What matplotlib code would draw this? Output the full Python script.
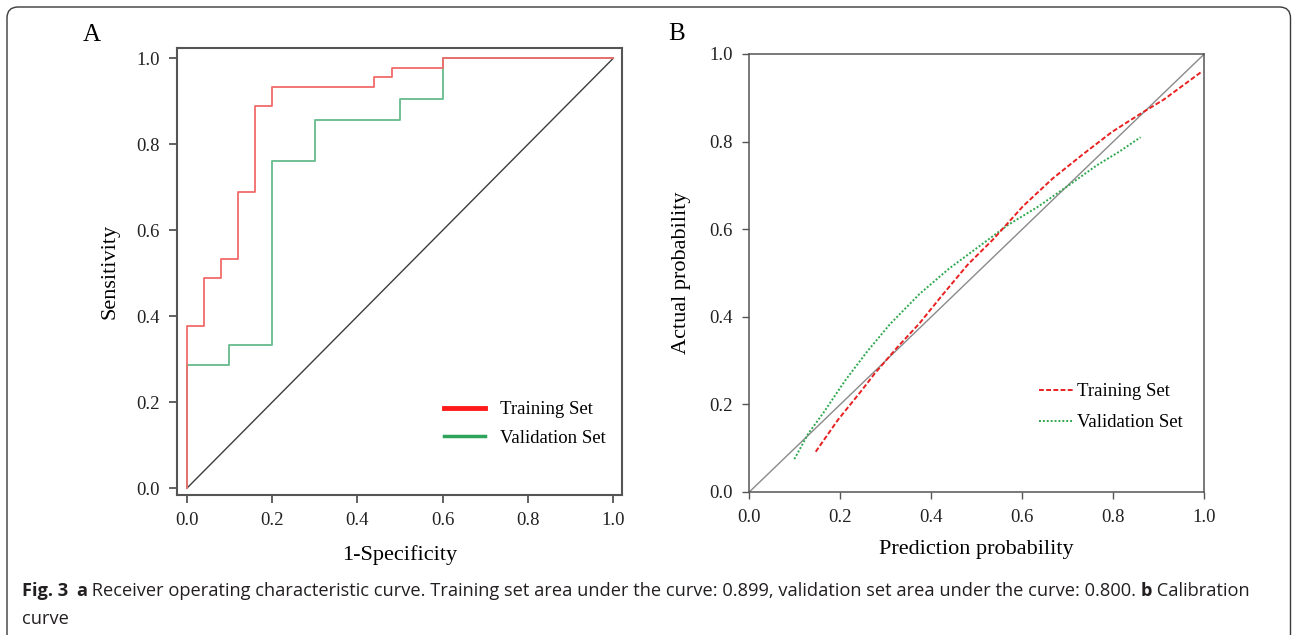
import numpy as np
import matplotlib
matplotlib.use("Agg")
import matplotlib.pyplot as plt
from matplotlib.lines import Line2D
from matplotlib.patches import FancyBboxPatch
from matplotlib.transforms import IdentityTransform

# ROC points (panel A)
train_fpr = [0, 0, 0.04, 0.04, 0.08, 0.08, 0.12, 0.12, 0.16, 0.16, 0.20, 0.20,
             0.44, 0.44, 0.48, 0.48, 0.60, 0.60, 1.00]
train_tpr = [0, 0.378, 0.378, 0.489, 0.489, 0.533, 0.533, 0.689, 0.689, 0.889, 0.889,
             0.933, 0.933, 0.956, 0.956, 0.978, 0.978, 1.0, 1.0]
valid_fpr = [0, 0, 0.10, 0.10, 0.20, 0.20, 0.30, 0.30, 0.50, 0.50, 0.60, 0.60, 1.00]
valid_tpr = [0, 0.286, 0.286, 0.333, 0.333, 0.762, 0.762, 0.857, 0.857, 0.905, 0.905,
             1.0, 1.0]

# calibration curves (panel B)
cal_train_x = [0.146, 0.195, 0.244, 0.276, 0.325, 0.374, 0.423, 0.480, 0.537, 0.602,
               0.667, 0.732, 0.797, 0.862, 0.911, 0.996]
cal_train_y = [0.092, 0.165, 0.228, 0.271, 0.330, 0.385, 0.448, 0.519, 0.578, 0.653,
               0.716, 0.770, 0.822, 0.865, 0.896, 0.961]
cal_valid_x = [0.099, 0.130, 0.163, 0.211, 0.260, 0.309, 0.374, 0.439, 0.504, 0.569,
               0.634, 0.699, 0.764, 0.813, 0.860]
cal_valid_y = [0.075, 0.134, 0.181, 0.255, 0.322, 0.383, 0.452, 0.510, 0.560, 0.610,
               0.651, 0.698, 0.746, 0.777, 0.810]

ticks = [0.0, 0.2, 0.4, 0.6, 0.8, 1.0]
tick_labels = ["0.0", "0.2", "0.4", "0.6", "0.8", "1.0"]
series_names = ["Training Set", "Validation Set"]

plt.rcParams["font.family"] = ["Liberation Serif", "DejaVu Serif"]

W, H = 1292, 635
fig = plt.figure(figsize=(W / 100, H / 100), dpi=100)

# outer rounded frame
frame = FancyBboxPatch((7, -10), 1283.5, 638, boxstyle="round,pad=0,rounding_size=11",
                       transform=IdentityTransform(), fill=False, edgecolor="#3a3a3a",
                       linewidth=1.0)
fig.patches.append(frame)

def px_axes(x0, y0, x1, y1):
    return fig.add_axes([x0 / W, 1 - y1 / H, (x1 - x0) / W, (y1 - y0) / H])

# Panel A: ROC
ax1 = px_axes(176.7, 48.3, 621.7, 495)
ax1.plot([0, 1], [0, 1], color="#3c3c3c", lw=1.0)
ax1.plot(valid_fpr, valid_tpr, color="#66bb8c", lw=1.3)
ax1.plot(train_fpr, train_tpr, color="#f26a6a", lw=1.3)
ax1.set_xlim(-0.0237, 1.0196)
ax1.set_ylim(-0.0156, 1.023)
ax1.set_xticks(ticks)
ax1.set_xticklabels(tick_labels)
ax1.set_yticks(ticks)
ax1.set_yticklabels(tick_labels)
ax1.tick_params(direction="out", length=6, width=1.3, color="#555555", labelsize=13.5,
                pad=6, labelcolor="#222222")
for s in ax1.spines.values():
    s.set_color("#555555")
    s.set_linewidth(1.5)
ax1.set_xlabel("1-Specificity", fontsize=16, labelpad=12)
ax1.set_ylabel("Sensitivity", fontsize=16, labelpad=12)
handles1 = [Line2D([], [], color="#ff1a1a", lw=3.5), Line2D([], [], color="#2ea35a", lw=2.5)]
ax1.legend(handles1, series_names, loc="lower left", bbox_to_anchor=(0.562, 0.07),
           frameon=False, fontsize=13.5, handlelength=2.2, handletextpad=0.8,
           labelspacing=0.6)

# Panel B: calibration
ax2 = px_axes(749.3, 54, 1204.3, 492)
ax2.plot([0, 1], [0, 1], color="#8a8a8a", lw=1.0)
ax2.plot(cal_valid_x, cal_valid_y, color="#2fa84f", lw=1.4, ls=(0, (1, 1)))
ax2.plot(cal_train_x, cal_train_y, color="#e82020", lw=1.4, ls=(0, (2.5, 1.2)))
ax2.set_xlim(0, 1)
ax2.set_ylim(0, 1)
ax2.set_xticks(ticks)
ax2.set_xticklabels(tick_labels)
ax2.set_yticks(ticks)
ax2.set_yticklabels(tick_labels)
ax2.tick_params(direction="out", length=5, width=1.0, color="#555555", labelsize=13.5,
                pad=7, labelcolor="#222222")
for s in ax2.spines.values():
    s.set_color("#555555")
    s.set_linewidth(1.1)
ax2.set_xlabel("Prediction probability", fontsize=16, labelpad=10)
ax2.set_ylabel("Actual probability", fontsize=16, labelpad=13)
handles2 = [Line2D([], [], color="#e82020", lw=1.4, ls=(0, (2.5, 1.2))),
            Line2D([], [], color="#2fa84f", lw=1.4, ls=(0, (1, 1)))]
ax2.legend(handles2, series_names, loc="lower left", bbox_to_anchor=(0.6, 0.1),
           frameon=False, fontsize=13.5, handlelength=1.8, handletextpad=0.2,
           labelspacing=0.75)

# panel letters
fig.text(92 / W, 1 - 35 / H, "A", fontsize=18, ha="center", va="center")
fig.text(677 / W, 1 - 34 / H, "B", fontsize=18, ha="center", va="center")

# caption
cap_font = ["Open Sans", "DejaVu Sans"]
cap_size = 13.15
y1 = 1 - 591 / H
t = fig.text(22 / W, y1, "Fig. 3", fontsize=cap_size, fontweight="bold", family=cap_font,
             va="center", color="#231f20")
fig.canvas.draw()
r = fig.canvas.get_renderer()
bb = t.get_window_extent(r)
x = bb.x1 + 8
parts = [("a", "bold"),
         (" Receiver operating characteristic curve. Training set area under the curve: 0.899, "
          "validation set area under the curve: 0.800. ", "normal"),
         ("b", "bold"), (" Calibration", "normal")]
for txt, wt in parts:
    tt = fig.text(x / W, y1, txt, fontsize=cap_size, fontweight=wt, family=cap_font,
                  va="center", color="#231f20")
    x = tt.get_window_extent(r).x1
fig.text(22 / W, 1 - 619 / H, "curve", fontsize=cap_size, family=cap_font, va="center",
         color="#231f20")

fig.savefig("out.png", dpi=100)
